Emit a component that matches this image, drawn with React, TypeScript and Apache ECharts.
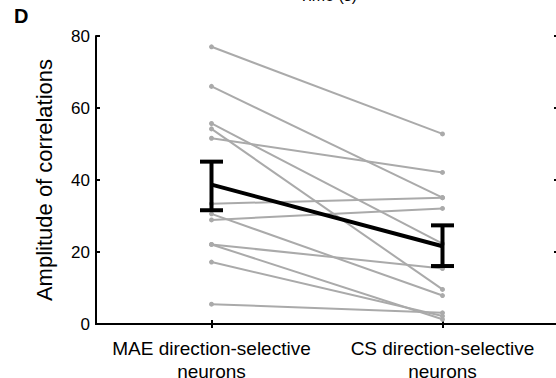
import React, { useEffect, useRef } from "react";
import * as echarts from "echarts";

const categories = ["MAE direction-selective\nneurons", "CS direction-selective\nneurons"];
const maeValues = [77, 66, 55.7, 54.2, 51.6, 33.4, 30.6, 28.9, 22.1, 22.1, 17.2, 5.5];
const csValues = [52.8, 35.1, 22.3, 9.6, 42.1, 35.1, 7.9, 32.1, 15.4, 1.3, 2.2, 3.1];
const meanValues = [38.7, 21.6];
const errLow = [31.6, 16.1];
const errHigh = [45.1, 27.4];
const yMin = 0;
const yMax = 80;
const yStep = 20;

export default function App() {
  const ref = useRef<HTMLDivElement>(null);
  useEffect(() => {
    const chart = echarts.init(ref.current!, null, { renderer: "svg" });
    const font = "'Liberation Sans', Arial, sans-serif";
    const gray = "#aaaaaa";
    const black = "#000000";
    const pairSeries: any[] = maeValues.map((v, i) => ({
      type: "line",
      data: [v, csValues[i]],
      symbol: "circle",
      symbolSize: 5,
      showSymbol: true,
      itemStyle: { color: gray, borderWidth: 0 },
      lineStyle: { color: gray, width: 2 },
      silent: true,
      z: 2,
    }));
    const axisTick = { show: true, inside: true, length: 4, lineStyle: { color: black, width: 2 } };
    const axisLine = { show: true, lineStyle: { color: black, width: 2 } };
    chart.setOption({
      animation: false,
      textStyle: { fontFamily: font },
      grid: {
        left: 96,
        top: 36,
        width: 462,
        height: 288,
        containLabel: false,
        outerBoundsMode: "none",
      },
      xAxis: [
        {
          type: "category",
          data: categories,
          position: "bottom",
          boundaryGap: true,
          axisLine,
          axisTick: { ...axisTick, alignWithLabel: true },
          axisLabel: {
            color: black,
            fontSize: 19,
            fontFamily: font,
            margin: 13,
            lineHeight: 23,
            interval: 0,
            hideOverlap: false,
          },
          splitLine: { show: false },
        },
        {
          type: "category",
          data: categories,
          position: "top",
          boundaryGap: true,
          axisLine,
          axisTick: { ...axisTick, alignWithLabel: true },
          axisLabel: { show: false },
          splitLine: { show: false },
        },
      ],
      yAxis: [
        {
          type: "value",
          min: yMin,
          max: yMax,
          interval: yStep,
          position: "left",
          name: "Amplitude of correlations",
          nameLocation: "middle",
          nameGap: 41,
          nameTextStyle: { color: black, fontSize: 22, fontFamily: font },
          axisLine,
          axisTick,
          axisLabel: { color: black, fontSize: 17, fontFamily: font, margin: 6 },
          splitLine: { show: false },
        },
        {
          type: "value",
          min: yMin,
          max: yMax,
          interval: yStep,
          position: "right",
          axisLine,
          axisTick,
          axisLabel: { show: false },
          splitLine: { show: false },
        },
      ],
      graphic: [
        {
          type: "text",
          left: 14,
          top: 6,
          style: { text: "D", fontSize: 20, fontWeight: "bold", fontFamily: font, fill: black },
        },
        {
          type: "text",
          x: 328,
          y: 3,
          style: {
            text: "Time (s)",
            fontSize: 16,
            fontFamily: font,
            fill: black,
            textAlign: "center",
            textVerticalAlign: "bottom",
          },
        },
      ],
      series: [
        ...pairSeries,
        {
          type: "line",
          data: meanValues,
          symbol: "none",
          lineStyle: { color: black, width: 4 },
          silent: true,
          z: 5,
        },
        {
          type: "custom",
          data: categories.map((_, i) => [i, errLow[i], errHigh[i]]),
          encode: { x: 0, y: [1, 2] },
          silent: true,
          z: 6,
          renderItem: (params: any, api: any) => {
            const x = api.value(0);
            const lo = api.coord([x, api.value(1)]);
            const hi = api.coord([x, api.value(2)]);
            const hw = 11.5;
            const style = { stroke: black, lineWidth: 4, fill: "none" };
            return {
              type: "group",
              children: [
                { type: "line", shape: { x1: lo[0], y1: lo[1], x2: hi[0], y2: hi[1] }, style },
                { type: "line", shape: { x1: lo[0] - hw, y1: lo[1], x2: lo[0] + hw, y2: lo[1] }, style },
                { type: "line", shape: { x1: hi[0] - hw, y1: hi[1], x2: hi[0] + hw, y2: hi[1] }, style },
              ],
            };
          },
        },
      ],
    });
    return () => chart.dispose();
  }, []);
  return (
    <div style={{ position: "fixed", left: 0, top: 0, width: 556, height: 378, background: "#fff" }}>
      <div ref={ref} style={{ width: 556, height: 378 }} />
    </div>
  );
}
